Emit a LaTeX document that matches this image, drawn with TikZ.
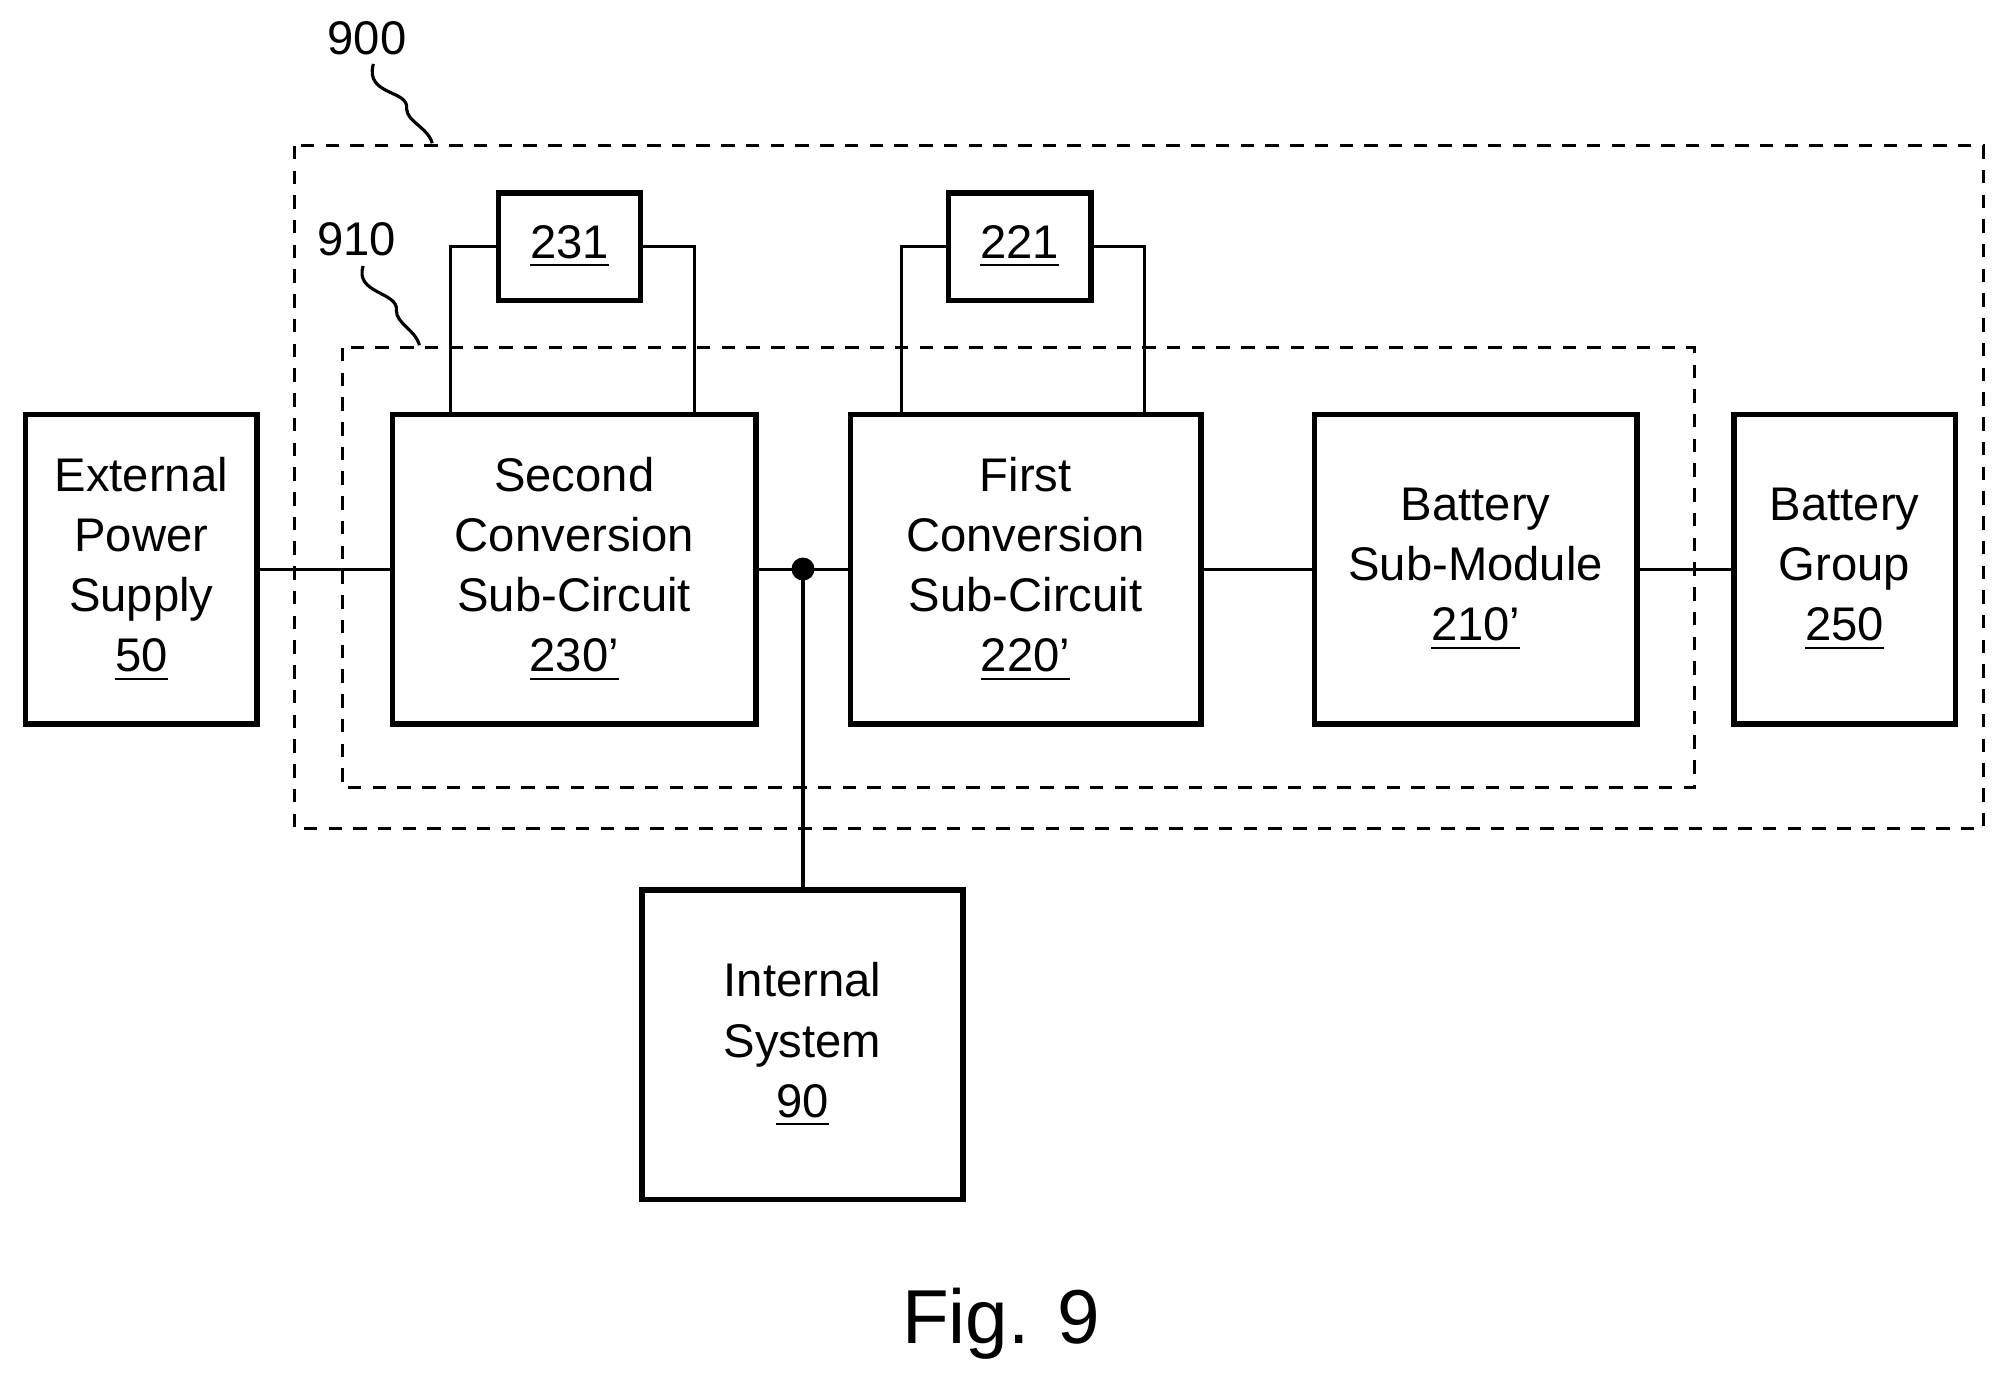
\documentclass[tikz,border=0pt]{standalone}
\usepackage{fontspec}
\setmainfont{Liberation Sans}
\begin{document}
\begin{tikzpicture}[x=0.01cm,y=-0.01cm,
 box/.style={draw,line width=1.2pt,align=center,outer sep=0pt,font=\fontsize{10.5pt}{13.4pt}\selectfont},
 wire/.style={line width=0.7pt},
 dashedframe/.style={line width=0.7pt,dash pattern=on 3pt off 2.5pt}]
\useasboundingbox (0,0) rectangle (1568,1084);
\draw[dashedframe] (230,114) rectangle (1551,648);
\draw[dashedframe] (268,272) rectangle (1325,616);
\node[box,anchor=north west,minimum width=1.81cm,minimum height=2.42cm] (eps) at (20,324) {External\\Power\\Supply\\\underline{50}};
\node[box,anchor=north west,minimum width=2.84cm,minimum height=2.42cm] (scc) at (307,324) {Second\\Conversion\\Sub-Circuit\\\underline{230'}};
\node[box,anchor=north west,minimum width=2.74cm,minimum height=2.42cm] (fcc) at (665,324) {First\\Conversion\\Sub-Circuit\\\underline{220'}};
\node[box,anchor=north west,minimum width=2.52cm,minimum height=2.42cm] (bsm) at (1028,324) {Battery\\Sub-Module\\\underline{210'}};
\node[box,anchor=north west,minimum width=1.73cm,minimum height=2.42cm] (bg) at (1356,324) {Battery\\Group\\\underline{250}};
\node[box,anchor=north west,minimum width=2.51cm,minimum height=2.42cm] (is) at (502,696) {Internal\\System\\\underline{90}};
\node[box,anchor=north west,minimum width=1.11cm,minimum height=0.84cm] (b231) at (390,151) {\underline{231}};
\node[box,anchor=north west,minimum width=1.11cm,minimum height=0.84cm] (b221) at (742,151) {\underline{221}};
\coordinate (dot) at (628,445);
\draw[wire] (eps.east) -- (scc.west);
\draw[wire] (scc.east) -- (fcc.west);
\draw[wire] (fcc.east) -- (bsm.west);
\draw[wire] (bsm.east) -- (bg.west);
\draw[wire] (dot) -- (dot|-is.north);
\fill (dot) circle (9);
\draw[wire] (352,322) |- (b231.west);
\draw[wire] (543,322) |- (b231.east);
\draw[wire] (705,322) |- (b221.west);
\draw[wire] (895,322) |- (b221.east);
\node[font=\fontsize{10.5pt}{12pt}\selectfont] (l900) at (287,30) {900};
\node[font=\fontsize{10.5pt}{12pt}\selectfont] (l910) at (279,187) {910};
\draw[wire] (292,50) .. controls (285,75) and (320,70) .. (318,85) .. controls (318,95) and (335,100) .. (338,112);
\draw[wire] (284,208) .. controls (277,230) and (312,228) .. (310,243) .. controls (310,253) and (325,258) .. (328,270);
\node[font=\fontsize{17pt}{20pt}\selectfont] (fig) at (783,1035) {Fig. 9};
\end{tikzpicture}
\end{document}
